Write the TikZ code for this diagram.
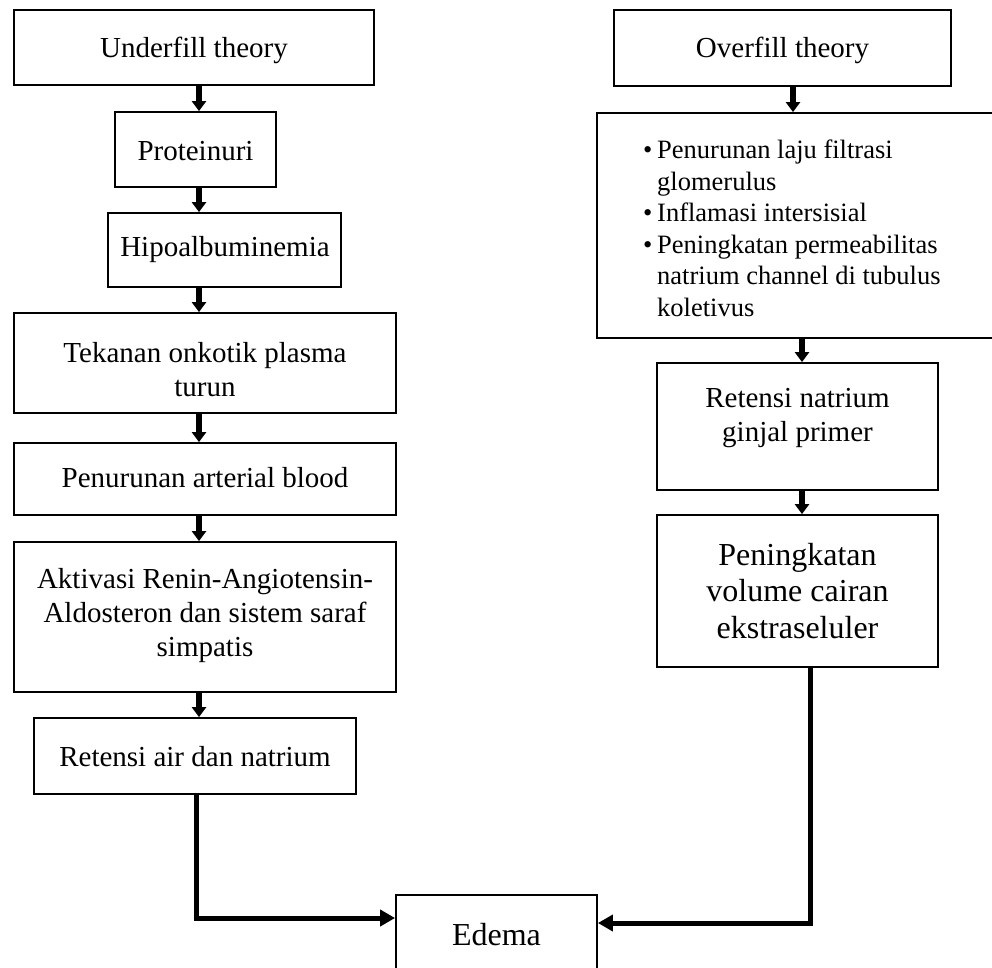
\documentclass[tikz,border=0pt]{standalone}
\usepackage{fontspec}
\setmainfont{Liberation Serif}
\usetikzlibrary{arrows.meta}
\begin{document}
\begin{tikzpicture}[x=1pt,y=-1pt,
  box/.style={draw, line width=1.8pt, inner sep=0pt, rectangle},
  txt/.style={align=center, inner sep=0pt, font=\fontsize{29}{34}\selectfont},
  big/.style={align=center, inner sep=0pt, font=\fontsize{32}{36.5}\selectfont},
  bul/.style={align=left, inner sep=0pt, font=\fontsize{26.5}{31.5}\selectfont},
  arr/.style={line width=6pt, -{Triangle[length=10pt,width=14pt]}},
  longarr/.style={line width=5pt, -{Triangle[length=15pt,width=16pt]}},
]
\useasboundingbox (0,0) rectangle (992,967);
\clip (0,0) rectangle (992,967);

% left column boxes
\node[box, minimum width=360pt, minimum height=75pt] (under) at (194,47.5) {};
\node[box, minimum width=161pt, minimum height=75pt] (prot) at (195.5,149.5) {};
\node[box, minimum width=233pt, minimum height=74pt] (hipo) at (224.5,250) {};
\node[box, minimum width=382pt, minimum height=100pt] (tek) at (205,363) {};
\node[box, minimum width=382pt, minimum height=72pt] (pen) at (205,479) {};
\node[box, minimum width=382pt, minimum height=150pt] (akt) at (205,617) {};
\node[box, minimum width=322pt, minimum height=76pt] (ret) at (195,756) {};
\node[box, minimum width=201pt, minimum height=105pt] (edema) at (496.5,947.5) {};

% right column boxes
\node[box, minimum width=337pt, minimum height=76pt] (over) at (782.5,48) {};
\node[box, minimum width=413pt, minimum height=225pt] (bulb) at (803.5,225.5) {};
\node[box, minimum width=281pt, minimum height=127pt] (retn) at (797.5,426.5) {};
\node[box, minimum width=281pt, minimum height=152pt] (ping) at (797.5,591) {};

% texts
\node[txt] (underT) at (194,50) {Underfill theory};
\node[txt] (protT) at (195.5,151) {Proteinuri};
\node[txt] (hipoT) at (225,250) {Hipoalbuminemia};
\node[txt] (tekT) at (205,370) {Tekanan onkotik plasma\\turun};
\node[txt] (penT) at (205,478) {Penurunan arterial blood};
\node[txt] (aktT) at (205,616) {Aktivasi Renin-Angiotensin-\\Aldosteron dan sistem saraf\\simpatis};
\node[txt] (retT) at (195,757) {Retensi air dan natrium};
\node[big] (edT) at (496.5,935) {Edema};
\node[txt] (overT) at (782.5,50) {Overfill theory};
\node[bul, anchor=north west] (bulT) at (643,140) {%
\makebox[14pt][l]{\textbullet}Penurunan laju filtrasi\\
\hspace*{14pt}glomerulus\\
\makebox[14pt][l]{\textbullet}Inflamasi intersisial\\
\makebox[14pt][l]{\textbullet}Peningkatan permeabilitas\\
\hspace*{14pt}natrium channel di tubulus\\
\hspace*{14pt}koletivus};
\node[txt] (retnT) at (797.5,418) {Retensi natrium\\ginjal primer};
\node[big] (pingT) at (797.5,591) {Peningkatan\\volume cairan\\ekstraseluler};

% connectors
\coordinate (xl) at (199,0);
\coordinate (xl2) at (196,0);
\coordinate (xr1) at (793,0);
\coordinate (xr2) at (802,0);
\coordinate (xr3) at (810,0);
\coordinate (yl) at (0,918);
\coordinate (yr) at (0,923);

\draw[arr] (under.south -| xl) -- (prot.north -| xl);
\draw[arr] (prot.south -| xl) -- (hipo.north -| xl);
\draw[arr] (hipo.south -| xl) -- (tek.north -| xl);
\draw[arr] (tek.south -| xl) -- (pen.north -| xl);
\draw[arr] (pen.south -| xl) -- (akt.north -| xl);
\draw[arr] (akt.south -| xl) -- (ret.north -| xl);

\draw[arr] (over.south -| xr1) -- (bulb.north -| xr1);
\draw[arr] (bulb.south -| xr2) -- (retn.north -| xr2);
\draw[arr] (retn.south -| xr2) -- (ping.north -| xr2);

\draw[longarr] (ret.south -| xl2) |- (edema.west |- yl);
\draw[longarr] (ping.south -| xr3) |- (edema.east |- yr);
\end{tikzpicture}
\end{document}
